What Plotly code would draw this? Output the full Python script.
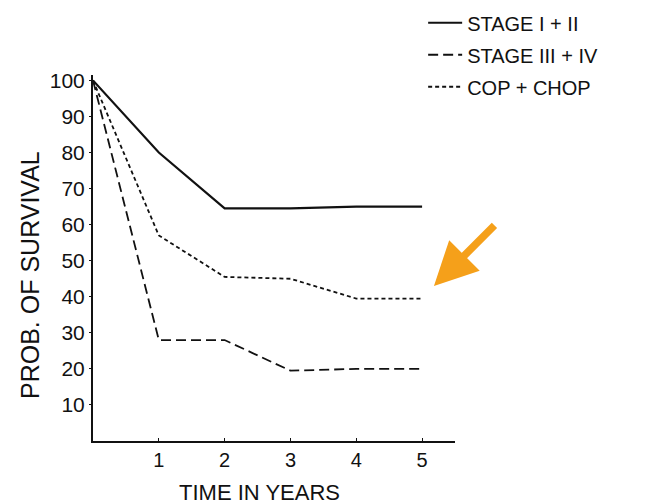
import plotly.graph_objects as go

years = [0, 1, 2, 3, 4, 5]
stage_1_2 = [100, 80, 64.5, 64.5, 65, 65]
stage_3_4 = [100, 28, 28, 19.5, 20, 20]
cop_chop = [100, 57, 45.5, 45, 39.5, 39.5]

x_ticks = [1, 2, 3, 4, 5]
y_ticks = [10, 20, 30, 40, 50, 60, 70, 80, 90, 100]
x_title = "TIME IN YEARS"
y_title = "PROB. OF SURVIVAL"

FONT = "Liberation Sans, Arial, sans-serif"
INK = "#111111"

fig = go.Figure()
fig.add_trace(go.Scatter(x=years, y=stage_1_2, mode="lines", name="STAGE I + II",
                         legendgroup="a", line=dict(color=INK, width=2.2, dash="solid")))
fig.add_trace(go.Scatter(x=years, y=stage_3_4, mode="lines", name="STAGE III + IV",
                         legendgroup="b", line=dict(color=INK, width=1.8, dash="10px,5px")))
fig.add_trace(go.Scatter(x=years, y=cop_chop, mode="lines", name="COP + CHOP",
                         legendgroup="c", line=dict(color=INK, width=1.8, dash="4px,3px")))

fig.add_annotation(x=5.18, y=43, xref="x", yref="y", ax=62, ay=-62, text="",
                   showarrow=True, arrowcolor="#F5A01A", arrowwidth=7.5,
                   arrowhead=2, arrowsize=1.15)

# axis titles placed as in the reference
fig.add_annotation(x=0.461, y=0, xref="paper", yref="paper", yshift=-51,
                   text=x_title, showarrow=False, font=dict(size=22),
                   xanchor="center", yanchor="middle")
fig.add_annotation(x=0, y=0.4536, xref="paper", yref="paper", xshift=-63,
                   text=y_title, showarrow=False, textangle=-90, font=dict(size=25),
                   xanchor="center", yanchor="middle")

fig.update_layout(
    width=640, height=496,
    margin=dict(l=85, r=193, t=67, b=63, autoexpand=False),
    paper_bgcolor="white", plot_bgcolor="white",
    font=dict(family=FONT, color=INK, size=20),
    showlegend=True,
    legend=dict(x=0.912, xanchor="left", y=1.196, yanchor="top",
                font=dict(family=FONT, size=20, color=INK),
                tracegroupgap=3, itemwidth=34, bgcolor="rgba(0,0,0,0)"),
    xaxis=dict(range=[0, 5.5], tickvals=x_ticks, ticktext=[str(v) for v in x_ticks],
               showgrid=False, zeroline=False, showline=True, linecolor=INK, linewidth=2,
               ticks="inside", ticklen=3, tickcolor=INK, automargin=False,
               tickfont=dict(size=20)),
    yaxis=dict(range=[0, 101.5], tickvals=y_ticks, ticktext=[str(v) for v in y_ticks],
               showgrid=False, zeroline=False, showline=True, linecolor=INK, linewidth=2,
               ticks="outside", ticklen=2, tickcolor=INK, automargin=False,
               tickfont=dict(size=21)),
)

fig.write_html("out.html")
